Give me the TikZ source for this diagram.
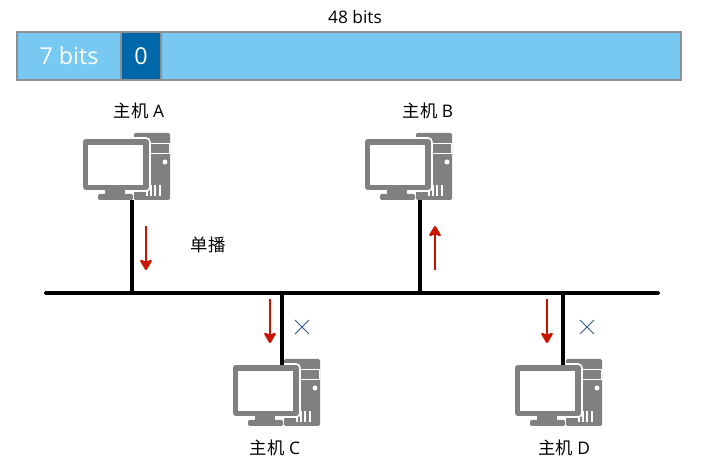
\documentclass[tikz,border=0pt]{standalone}
\usepackage{fontspec}
\setmainfont{Open Sans}
\newfontfamily\cjk{Noto Sans CJK SC}
\usetikzlibrary{positioning,shapes.misc,arrows.meta}
\definecolor{fieldblue}{HTML}{78C9F2}
\definecolor{zeroblue}{HTML}{0068A8}
\definecolor{framegray}{HTML}{8C8F94}
\definecolor{hostgray}{HTML}{808080}
\definecolor{arrowred}{HTML}{C81400}
\definecolor{crossblue}{HTML}{2F5B8C}

\tikzset{
  pics/hostpc/.style={
    code={
      % tower
      \fill [hostgray,rounded corners=1] (51,0) rectangle (87,67);
      \draw [white,line width=0.6pt] (62,10) rectangle (86,20);
      \fill [white] (82,29) circle [radius=2.5];
      \foreach \vx in {64,68,72,77} {
        \draw [white,line width=0.9pt] (\vx,52) -- (\vx,63);
      }
      % monitor
      \draw [white,fill=hostgray,line width=1.2pt,rounded corners=3] (-1,5) rectangle (67,58);
      \fill [white] (5,12) rectangle (60,52);
      \fill [hostgray] (22,57) rectangle (42,61);
      \fill [hostgray,rounded corners=1] (15,61) rectangle (50,67);
    }
  },
}

\begin{document}
\begin{tikzpicture}[x=0.75pt,y=-0.75pt]
  \useasboundingbox (0,0) rectangle (701,473);
  \begin{scope}[
    every node/.style={
      inner sep=0pt,
      outer sep=0pt,
    },
    fieldcell/.style={
      rectangle,
      draw=framegray,
      line width=1.5pt,
      fill=fieldblue,
      text=white,
      minimum height=36pt,
      font=\fontsize{17.5}{20}\selectfont,
    },
    hostlabel/.style={
      font=\fontsize{13}{15}\selectfont,
    },
    tapline/.style={
      line width=2.7pt,
    },
    ]
    % frame
    \node [fieldcell,minimum width=78pt] (f7bits) at (69,56) {7 bits};
    \node [fieldcell,fill=zeroblue,minimum width=30pt,right=0pt of f7bits] (fzero) {0};
    \node [fieldcell,minimum width=390pt,right=0pt of fzero] (frest) {};
    \node [hostlabel] (fwidth) at (355,17) {48 bits};

    % bus
    \node [rectangle,fill=black,rounded corners=1pt,minimum width=462pt,minimum height=2.7pt] (bus) at (352,293) {};

    % hosts
    \node [hostlabel] (lA) at (139,111) {{\cjk 主机} A};
    \node [hostlabel] (lB) at (428,111) {{\cjk 主机} B};
    \node [hostlabel] (lC) at (275,448) {{\cjk 主机} C};
    \node [hostlabel] (lD) at (564,448) {{\cjk 主机} D};
    \node [hostlabel] (lunicast) at (208,245) {{\cjk 单播}};

    % taps
    \coordinate (tA) at (132,200);
    \coordinate (tB) at (420,200);
    \coordinate (tC) at (282,365);
    \coordinate (tD) at (563,365);
    \draw [tapline] (tA) -- (tA |- bus);
    \draw [tapline] (tB) -- (tB |- bus);
    \pic at (83,133) {hostpc};
    \pic at (365,133) {hostpc};
    \pic at (233,359) {hostpc};
    \pic at (515,359) {hostpc};
    \draw [tapline] (tC) -- (tC |- bus);
    \draw [tapline] (tD) -- (tD |- bus);

    % crosses
    \node [cross out,draw=crossblue,line width=0.6pt,minimum size=10.5pt] (xC) at (302,327) {};
    \node [cross out,draw=crossblue,line width=0.6pt,minimum size=10.5pt] (xD) at (587,327) {};
  \end{scope}
  \begin{scope}[
    myarrow/.style={
      ->,
      draw=arrowred,
      line width=1.9pt,
      >={Stealth[inset=2.5pt,length=9.5pt,width=11pt,round]},
    },
    ]
    \draw [myarrow] (146,226) coordinate (aA) -- ++(0,44);
    \draw [myarrow] (435,270) coordinate (aB) -- ++(0,-44);
    \draw [myarrow] (270,299) coordinate (aC) -- ++(0,44);
    \draw [myarrow] (547,299) coordinate (aD) -- ++(0,44);
  \end{scope}
\end{tikzpicture}
\end{document}
